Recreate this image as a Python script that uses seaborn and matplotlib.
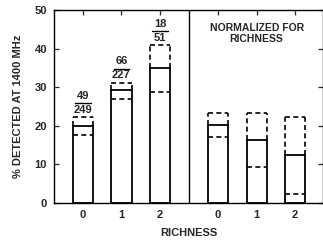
import matplotlib
matplotlib.use("Agg")
import matplotlib.pyplot as plt
import seaborn as sns
import pandas as pd

# data
positions = [0, 1, 2, 3.5, 4.5, 5.5]
tick_labels = ["0", "1", "2", "0", "1", "2"]
solid_vals = [20.0, 29.3, 35.1, 20.2, 16.3, 12.4]
inner_dash = [17.6, 26.9, 28.8, 17.2, 9.4, 2.3]
upper_dash = [22.2, 31.2, 40.9, 23.4, 23.4, 22.4]
numerators = ["49", "66", "18"]
denominators = ["249", "227", "51"]

sns.set_theme(style="ticks")
plt.rcParams['font.family'] = ['Liberation Sans', 'DejaVu Sans']
plt.rcParams['font.weight'] = 'bold'

df = pd.DataFrame({"pos": positions, "val": solid_vals})

fig = plt.figure(figsize=(3.23, 2.48), dpi=100)
ax = fig.add_axes([0.167, 0.1815, 0.833, 0.778])

bw = 0.52
sns.barplot(data=df, x="pos", y="val", native_scale=True, width=bw,
            color="white", edgecolor="black", linewidth=1.3, ax=ax,
            saturation=1, errorbar=None)

dash = (0, (3, 2))
for x, lo, hi, top in zip(positions, inner_dash, upper_dash, solid_vals):
    ax.hlines(lo, x - bw / 2, x + bw / 2, colors="black", linestyles=dash, lw=1.2)
    ax.hlines(hi, x - bw / 2, x + bw / 2, colors="black", linestyles=dash, lw=1.2)
    ax.vlines([x - bw / 2, x + bw / 2], top, hi, colors="black", linestyles=dash, lw=1.2)

# fraction labels over the left panel bars
for x, hi, n, d in zip(positions[:3], upper_dash[:3], numerators, denominators):
    ax.text(x, hi + 1.9, d, ha="center", va="center", fontsize=8, fontweight="bold")
    ax.plot([x - 0.2, x + 0.2], [hi + 3.6, hi + 3.6], color="black", lw=1.0)
    ax.text(x, hi + 5.5, n, ha="center", va="center", fontsize=8, fontweight="bold")

ax.axvline(2.75, color="black", lw=1.0)
ax.text(4.5, 44.0, "NORMALIZED FOR\nRICHNESS", ha="center", va="center",
        fontsize=7.5, fontweight="bold", linespacing=1.1)

ax.set_xlim(-0.75, 6.22)
ax.set_ylim(0, 50)
ax.set_xticks(positions)
ax.set_xticklabels(tick_labels)
ax.set_yticks([0, 10, 20, 30, 40, 50])
ax.tick_params(direction="in", length=3.5, width=0.9, top=True, right=True,
               labelsize=8, pad=5)
for lab in ax.get_xticklabels() + ax.get_yticklabels():
    lab.set_fontweight("bold")
for s in ax.spines.values():
    s.set_linewidth(1.0)
    s.set_color("black")

ax.set_xlabel("RICHNESS", fontsize=8, fontweight="bold", labelpad=6)
ax.set_ylabel("% DETECTED AT 1400 MHz", fontsize=8, fontweight="bold", labelpad=8)

fig.savefig("out.png", dpi=100)
